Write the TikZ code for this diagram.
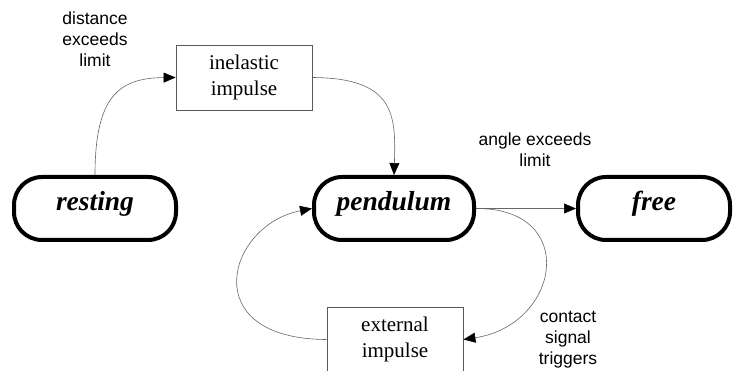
\documentclass[tikz,border=0pt]{standalone}
\usepackage{fontspec}
\setmainfont{Liberation Serif}
\newfontfamily\labfont{Liberation Sans}
\usetikzlibrary{arrows.meta}
\tikzset{
  statebox/.style={draw=black, line width=4pt, rounded corners=28pt, minimum height=63pt,
    inner sep=0pt, font=\fontsize{27.5}{30}\selectfont\bfseries\itshape,
    text height=0.7em, text depth=0.22em},
  actbox/.style={draw=black!65, line width=0.8pt, minimum width=136pt, minimum height=65pt,
    inner sep=0pt, align=center, font=\fontsize{21}{26}\selectfont},
  lbl/.style={inner sep=0pt, align=center, font=\labfont\fontsize{17.5}{21}\selectfont},
  conn/.style={draw=black!60, line width=0.6pt, -{Triangle[length=12pt,width=10pt,black]}}
}
\begin{document}
\begin{tikzpicture}[x=1pt,y=-1pt]
\useasboundingbox (0,0) rectangle (734,371);
\node[statebox, minimum width=162pt] (rest) at (95,208.5) {resting};
\node[statebox, minimum width=160pt] (pend) at (394,208.5) {pendulum};
\node[statebox, minimum width=152pt] (free) at (654,208.5) {free};
\node[actbox] (inel) at (244,77.5) {inelastic\\impulse};
\node[actbox] (ext) at (395,339.5) {external\\impulse};
\node[lbl] (l1) at (95,39) {distance\\exceeds\\limit};
\node[lbl] (l2) at (535,150) {angle exceeds\\limit};
\node[lbl] (l3) at (568,340) {contact\\signal\\triggers};
\draw[conn] (rest.north) .. controls (95,95) and (120,78) .. (inel.west);
\draw[conn] (inel.east) .. controls (395,78) and (396,115) .. (pend.north);
\draw[conn] (pend.east) -- (free.west);
\draw[conn] (pend.east) .. controls (580,208) and (560,325) .. (ext.east);
\draw[conn] (ext.west) .. controls (195,339) and (227,225) .. (pend.west);
\end{tikzpicture}
\end{document}
